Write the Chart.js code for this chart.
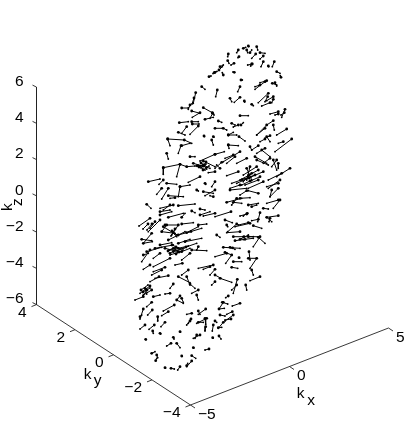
<!DOCTYPE html>
<html>
<head>
<meta charset="utf-8">
<title>k-space quiver</title>
<script src="https://cdn.jsdelivr.net/npm/chart.js@4"></script>
<style>
body { margin: 0; background: #fff; }
canvas { display: block; }
</style>
</head>
<body>
<canvas id="chart" width="407" height="435"></canvas>
<script>
// axis ticks
const kxTicks = [-5, 0, 5];
const kyTicks = [4, 2, 0, -2, -4];
const kzTicks = [6, 4, 2, 0, -2, -4, -6];

// arrows: [tailH, tailV, headH, headV]
const arrowsTopLeft = [
  [209,76.7,211,76],[214.5,72.5,213,73.5],[201.7,86.7,205,89.3],[195.7,92.7,193.3,103.3],
  [181.7,108,188.3,108],[190,105,188.3,109.3],[194,98,192,104],[203.3,107.7,212.3,112.7],
  [212.3,112.7,214,115],[191.7,111,200,113.3],[200,112.7,192.3,117.3],[205,119.3,213.3,117.3],
  [212.7,113.3,210,118.3],[179.3,122.7,188.3,121.7],[191.7,121.7,198.3,121.7],[192.3,124,199,124]
];
const arrowsTopRight = [
  [248.3,46,248.8,46.5],[243.3,48.3,245.7,47.3],[246.7,50,247.7,52.7],[250,52.7,251.7,50],
  [256.7,46.7,257.7,50],[260,52.7,265,53.3],[255.7,54,251.7,58.3],[263.3,56,260,59],
  [228.3,54,227.7,56.7],[238.3,50,236.7,52.7],[239,56.7,238,57.7],[227.7,60.7,229,63.3],
  [234,63.3,231,65],[252.3,64,247.7,65],[251.7,64,250.7,66],[263.3,61.7,261,66.7],
  [268.3,66,268.7,66.7],[274.3,61.7,272.3,66.7],[276.7,71.7,280,73.3],[281,77.3,280.3,75.7],
  [220,66.7,223.3,65],[219,70,222.3,66.7],[215,72.3,217,71.3],[223.3,75,222.3,72.7],
  [234.3,72.3,233,72],[241,80,242.3,80],[240,86.7,237.7,91.7],[230,98.3,231.7,101.7],
  [240,97.3,234.3,102.3],[244.3,101,244.7,102],[251.7,104.3,253.3,105.7],[266.7,80.7,260,82.7],
  [265,81.7,255,89.3],[260,85,255,86.7],[272.3,83.3,276.7,85],[275,82.7,276.7,86],
  [268.3,93.3,258.3,102.7],[267.7,96.7,265,101.7],[273.3,96.7,266.7,100.7],[270,102.7,261.7,106],
  [273.3,99.3,271.7,102.7],[278.3,111.7,270,114],[285,109.3,281.7,117.3],[278.3,114,275,115],
  [284.3,112.7,281,115],[240,115.7,248.3,115.7],[218.3,121,221.7,122.3],[231.7,123.3,235,125],
  [241,125,243.3,122.7],[273.3,120.7,266.7,125],[217.3,90,215.7,96.7]
];
const arrowsUpperLeft = [
  [186.7,126.7,181.7,133.3],[178.3,132.3,185,135],[198.3,126,190,134.3],[167.7,139,184.3,140],
  [167.7,139,170,145.7],[184.3,140,191.7,143.3],[181.7,145.7,190,143.3],[181,145.7,178.3,153.3],
  [204,136,204.5,136.5],[213.3,136.7,213.8,137.2],[211.7,140,213.3,145],[166.7,153.3,168.3,159],
  [190,156.7,195,156.7],[215,154.3,200,161],[163.3,167.7,180,164.3],[163.3,167.7,163.3,174.3],
  [180,164.3,176.7,176.7],[180,164.3,186.7,166.7],[186.7,166.7,195,166],[197,165.8,205,165],
  [193.3,163.3,201,165.7],[203,166.2,210,168.3],[198.3,165.7,205,170],[203.3,161,215,166.7],
  [215,171.7,208.3,172.7],[203.3,165,206.7,169],[201,163,207,167],[206,162,201,168],
  [199,167,206,164],[203,170,209,166],
  [148.3,181.7,160,179],[163.3,180,159,184.3],[166.7,183.3,176.7,184.3],[200,176.7,188.3,182.3],
  [180,186.7,190,185],[180,186.7,178.3,196.7],[161.7,188.3,156.7,194.3],[168.3,188.3,161.7,199],
  [168.3,195.7,183.3,196.7],[175,197.7,170,198.3],[196.7,190,198.3,191],[205,183.3,205.7,184.3],
  [215,181.7,211.7,186.7],[203.3,191.7,213.3,193.3],[215,190,205,195.7],[213.3,196.7,210,195.7],
  [146.7,204.3,151,208.3],[178.3,205.7,195,204],[173.3,205,160,208.3],[170,205,163.3,210],
  [200,209,205,210]
];
const arrowsUpperRight = [
  [215,128.3,222.3,128.3],[223.3,128.3,226.7,130],[238.3,125,233.3,127],[266.7,125,256.7,135],
  [265,128.3,256.7,135],[273.3,125,274.3,130],[286.7,129,276.7,135],[228.3,135,236.7,135],
  [228.3,135,233.3,132.3],[239,136.7,245,141],[265,139,260,141.7],[270,135.7,265,138.3],
  [266.7,136.7,270,141.7],[291.7,139,275,151.7],[283.3,141.7,278.3,143.3],[228.3,145,238.3,145.7],
  [228.3,145,229,148.3],[258.3,145.7,251.7,150],[250,146.7,251.7,150],[265,148.3,256.7,153.3],
  [261.7,150,270,156.7],[215,154.3,224.3,151.7],[240,151.7,223.3,161.7],[233.3,155,225,158.3],
  [235,156.7,226.7,163.3],[246.7,158.3,236.7,163.3],[221.7,162.3,215,168.3],[220,168.3,216.7,165],
  [255,156.7,266.7,163.3],[256.7,160,268.3,165],[270,158.3,263.3,163.3],[276.7,160,271.7,166.7],
  [273.3,160,276.7,170],[278.3,163.3,278.3,168.3],[238.3,171.7,226.7,175.7],[256.7,166.7,243.3,175],
  [258.3,170,250,174.5],[248.5,175.5,240,180],[263.3,171.7,251,177],[249,178,236.7,183.3],
  [255,175,244,179],[242,179.7,231.7,183.3],[260,176.7,251.5,180.5],[250,181,241.7,185],
  [246.7,168.3,251.7,180],[250,166.7,246.7,180],[251.7,173.3,243.3,181.7],[258.3,180,245,185],
  [240,185,230,188.3],[263.3,181.7,248.3,188.3],[290,168.3,276.7,176.7],[281.7,173.3,268.3,180],
  [280,180,268.3,188.3],[278.3,183.3,266.7,186.7],[278.3,188.3,270,196.7],[271.7,190,270,196.7],
  [230,190,246.7,188.3],[258.3,193.3,248.3,190.7],[246.7,190.7,240,195],[240,198.3,250,197.7],
  [226.7,202.3,241.7,198.3],[236.7,198.3,231.7,205],[233.3,202.3,241.7,203.3],[248.3,205,258.3,203.3],
  [251.7,206.7,256.7,205],[280,200,273.3,208.3],[278.3,200,266.7,203.3],[263.3,208.3,268.3,209]
];
const arrowsLowerLeft = [
  [160,211.7,170,210],[160,215,171.7,211.7],[168.3,217.3,183.3,213.3],[181.7,217.3,185,213.3],
  [191.7,211,195,212.7],[200,215,210,211.7],[215,213.3,203.3,216],[150,218.3,139,226],
  [160,220,148.3,231.7],[155,221.7,150,228.3],[148,224,143,229],[152,224,147,230],
  [166.7,225,161.7,231.7],[165,225,178.3,225],[178.3,225,171.7,235],[172,231,177,235],
  [175,229,171,236],[181.7,224,193.3,222.7],[198.3,225,206.7,224],[163.3,226.7,175,234],
  [161.7,231.7,175,233.3],[168.3,240,185,231.7],[173.3,232.7,176.7,236.7],[178.3,235,189,232],
  [191,231.5,201.7,228.3],[186.7,232.7,198.3,226.7],[151.7,233.3,143.3,243.3],[141.7,239.3,151.7,240.7],
  [143.3,243.3,152.3,241.7],[178.3,243.3,190,239.3],[185,241.7,201.7,238.3],[160,245,171.7,242.7],
  [155,248.3,173.3,245],[146.7,251.7,161.7,247.3],[150,250,141.7,261.7],[143.3,255,148.3,253.3],
  [173.3,251.7,184,248],[186,247,196.7,243.3],[173.3,248.3,180,251.7],[178.3,248.3,188.3,246],
  [165,248.3,178.3,251.7],[170,253.3,175,250],[176,247,169,250],[179,252,170,255],
  [172,245,181,249],[176,254,183,250],[168,251,176,248],[181.7,251.7,190,248.3],
  [191.7,250,206.7,250.7],[198.3,246.7,196.7,250],[160,253.3,153.3,258.3],
  [170,258.3,153.3,266.7],[190,253.3,181.7,260],[182.3,263.3,175,265],[150,265,143.3,269.3],
  [165,267.3,153.3,271.7],[213.3,265,198.3,268.3],[210,266.7,203.3,269.3],[215,269.3,210,275],
  [161.7,270,151.7,275],[188.3,270,181.7,275],[168.3,275.7,155,278.3],[159,276.7,150,281.7],
  [178.3,276.7,190,282.7],[186.7,276.7,190,285],[190,284,195,288.3],[173.3,284,170,288.3],
  [215,281.7,211.7,285],[150,286,140,293.3],[145,288.3,146.7,294],[151.7,290,143.3,295],
  [141,290,148,285],[143,292,150,288],[147,290,143,296],[170,293.3,165,294],[198.3,290,191.7,293.3]
];
const arrowsLowerRight = [
  [231,211.7,215,216.7],[246.7,214,240,216],[247.3,213.3,243.3,216],[260,212.7,257.7,221.7],
  [278.3,215.7,266.7,217.3],[266.7,217.3,271.7,221.7],[270,218.3,269,221.7],[258.3,219.3,251.7,220.7],
  [225,220,232.3,222.7],[248.3,222.7,238.3,225],[250,223.3,235,226.7],[236.7,224,227.7,231.7],
  [226.7,225,227.7,226.7],[253.3,225.7,261.7,228.3],[240,231.7,226.7,232.7],[216.7,235,220,237.3],
  [233.3,236.7,243,236.7],[244,236.7,253.3,236.7],[235,240.7,243.5,239.5],[245,239.3,253.3,238.3],
  [240,239.3,248.3,235],[248.3,236.7,260,236.7],[260,236.7,253.3,246.7],[258.3,237.3,265,243.3],
  [223.3,247.3,231,247.8],[232.5,247.8,240,248.3],[230,247.3,235,249.3],
  [226.7,253.3,215,256.7],[225,252.3,231.7,255],[231.7,255,225.7,263.3],[249,251.7,250,260],
  [248.3,258.3,256.7,258.3],[256.7,258.3,250,268.3],[251.7,270,253.3,275],[233.3,261.7,241.7,261.7],
  [239,257.7,239.5,258],[231.7,267.3,237.7,268.3],[260,276.7,250,280.7],[215,275,221,278.3],
  [220,278.3,231.7,282.3],[237.3,279.3,233.3,293.3],[236.7,285,231.7,290],[245.7,285,246.7,290]
];
const arrowsBottomLeft = [
  [143.3,296.7,135,300],[153.3,296.7,160,295],[180,296,176.7,300],[176.7,300,183.3,303.3],
  [181.7,298.3,183.3,302.3],[196.7,295,198.3,300],[151.7,302.3,146.7,306.7],[143.3,309,140,319],
  [152.3,310,147.7,315],[174.3,305,163.3,311],[168.3,311.7,161.7,315.7],[157.7,316.7,157.7,321],
  [140,316.7,141.7,315],[191.7,313.3,186.7,314.3],[205.7,309,198.3,314.3],[198.3,311,200,314.3],
  [191,319,186.7,325],[190,321,188.3,323.3],[206.7,318.3,196.7,323.3],[198.3,322.3,203.3,322.3],
  [205,318.3,205.7,324.3],[205.7,326.7,205,331],[213.3,325,212.3,331],[145,325,140,329],
  [154.3,325,149,329.3],[165,322.3,161,326.7],[152.7,331,153.3,333.3],[160,333.3,160.7,334],
  [180,331.7,180.5,332],[200,335,193.3,338.3],[196.7,335,195,338.3],[212.7,337.7,213,338.2],
  [145.7,339.3,146,339.8],[173.3,337.3,174,339],[171,343.3,166.7,346],[176.7,343.3,180,347.7],
  [193.3,347.7,193.8,348],[209,349,205,350],[151.7,353.3,155,351.7],[156.7,355,157.7,357.7],
  [155.7,360.7,156.7,358.3],[181.7,356,182.2,356.3],[191.7,355.7,195.7,358.3],[191.7,361,186.7,366.7],
  [165,367.7,165.5,368],[171,368.3,174.3,369],[180,366.7,177.7,370],[186.7,365.7,187.7,363.3]
];
const arrowsBottomRight = [
  [228.3,296,225.7,297.7],[222.3,302.3,227.7,304],[223.3,302.3,219,309],[219,309,224.3,308.3],
  [240,303.3,232.3,306],[232.3,311.7,226.7,314.3],[220,315,225,316],[233.3,315,225,321],
  [231,319,225,320],[215,321,216.7,322.3],[223.3,322.3,218.3,328.3],[218.3,327.7,221.7,327.3],
  [219,336,221,339]
];

// projection of the box axes into the view
function project(kx, ky, kz) {
  return {
    x: 190.5 + (kx + 5) * 19.8 - (ky + 4) * 19.25,
    y: 405 - (kx + 5) * 7.7 - (ky + 4) * 12.55 - (kz + 6) * 18.125
  };
}

// two point segments joined in one dataset, NaN breaks the line
function segments(list) {
  const out = [];
  list.forEach(s => {
    out.push({ x: s[0], y: s[1] }, { x: s[2], y: s[3] }, { x: NaN, y: NaN });
  });
  return out;
}

const arrows = [].concat(arrowsTopLeft, arrowsTopRight, arrowsUpperLeft, arrowsUpperRight,
  arrowsLowerLeft, arrowsLowerRight, arrowsBottomLeft, arrowsBottomRight);

const boxLines = [];
const addLine = (a, b) => boxLines.push([a.x, a.y, b.x, b.y]);
addLine(project(-5, 4, 6), project(-5, 4, -6));
addLine(project(-5, 4, -6), project(-5, -4, -6));
addLine(project(-5, -4, -6), project(5, -4, -6));
kzTicks.forEach(k => { const p = project(-5, 4, k); addLine(p, { x: p.x - 4, y: p.y - 2 }); });
kyTicks.forEach(k => { const p = project(-5, k, -6); addLine(p, { x: p.x - 5, y: p.y + 2 }); });
kxTicks.forEach(k => { const p = project(k, -4, -6); addLine(p, { x: p.x + 4.5, y: p.y + 3 }); });

// tick labels and axis titles, placed from the projected tick position
const textPlugin = {
  id: 'boxText',
  afterDraw(chart) {
    const c = chart.ctx;
    const sx = chart.scales.x, sy = chart.scales.y;
    const put = (txt, h, v, align, rot) => {
      c.save();
      c.translate(sx.getPixelForValue(h), sy.getPixelForValue(v));
      if (rot) c.rotate(rot);
      c.textAlign = align;
      c.textBaseline = 'middle';
      c.fillText(txt, 0, 0);
      c.restore();
    };
    const lab = k => String(k).replace('-', '\u2212');
    c.save();
    c.fillStyle = '#000';
    c.font = '15.5px "Liberation Sans"';
    kzTicks.forEach(k => { const p = project(-5, 4, k); put(lab(k), p.x - 13, p.y - 5.5, 'right'); });
    kyTicks.forEach(k => { const p = project(-5, k, -6); put(lab(k), p.x - 10, p.y + 8, 'right'); });
    kxTicks.forEach(k => { const p = project(k, -4, -6); put(lab(k), p.x + 7.5, p.y + 9.3, 'left'); });
    put('k', 7.5, 207, 'center', -Math.PI / 2);
    put('z', 18, 202, 'center', -Math.PI / 2);
    put('k', 87.5, 374.5, 'center');
    put('y', 97.5, 381, 'center');
    put('k', 300.5, 394, 'center');
    put('x', 311, 400.5, 'center');
    c.restore();
  }
};

new Chart(document.getElementById('chart'), {
  type: 'scatter',
  data: {
    datasets: [
      {
        data: segments(boxLines),
        showLine: true,
        borderColor: '#222222',
        borderWidth: 0.9,
        pointRadius: 0,
        spanGaps: false
      },
      {
        data: segments(arrows),
        showLine: true,
        borderColor: '#000000',
        borderWidth: 1,
        pointRadius: 0,
        spanGaps: false
      },
      {
        data: arrows.map(s => ({ x: s[0], y: s[1] })),
        showLine: false,
        pointRadius: 1.4,
        pointBorderWidth: 0,
        pointBackgroundColor: '#000000'
      },
      {
        data: arrows.map(s => ({ x: s[2], y: s[3] })),
        showLine: false,
        pointRadius: 0.9,
        pointBorderWidth: 0,
        pointBackgroundColor: '#000000'
      }
    ]
  },
  options: {
    responsive: false,
    animation: false,
    layout: { padding: 0, autoPadding: false },
    plugins: { legend: { display: false }, tooltip: { enabled: false } },
    scales: {
      x: { display: false, min: 0, max: 407 },
      y: { display: false, min: 0, max: 435, reverse: true }
    }
  },
  plugins: [textPlugin]
});
</script>
</body>
</html>
